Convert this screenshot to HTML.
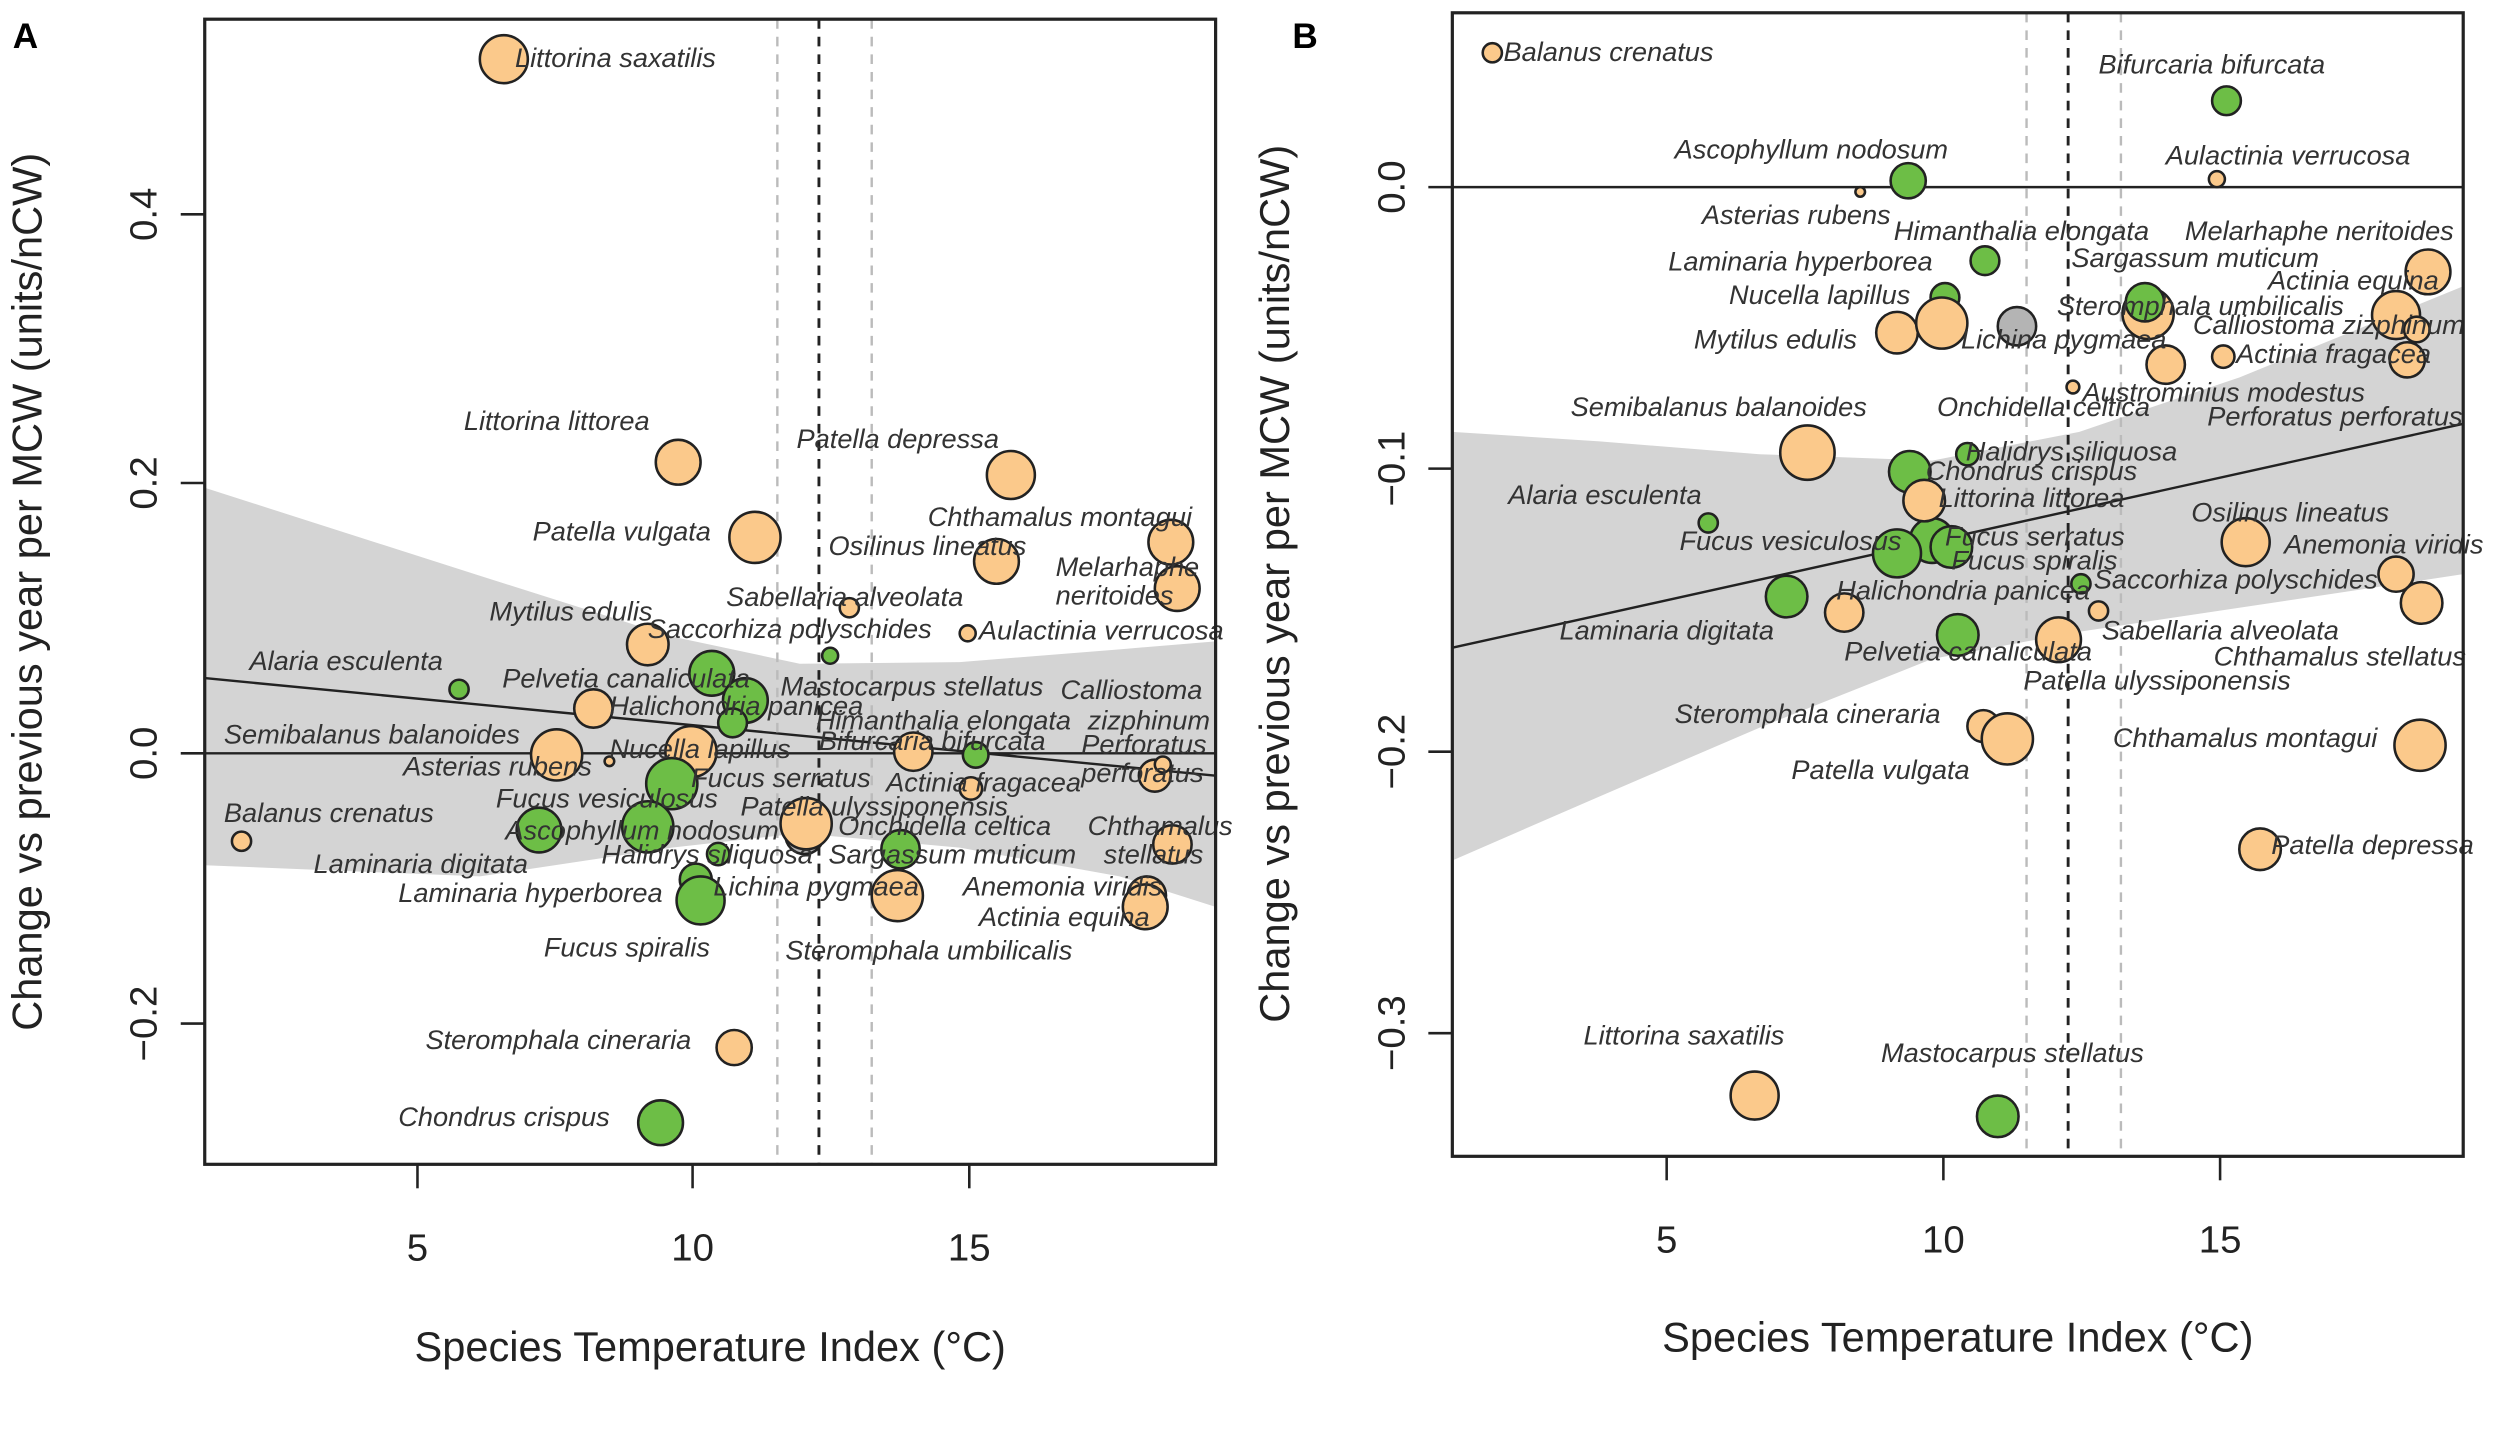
<!DOCTYPE html>
<html><head><meta charset="utf-8"><style>
html,body{margin:0;padding:0;background:#fff;}
svg{display:block;}
text{font-family:"Liberation Sans",sans-serif;}
.l{font-size:17px;font-style:italic;fill:#333;}
.t{font-size:24px;fill:#222;}
.ax{font-size:26px;fill:#222;}
.o{fill:#FBC98B;stroke:#222;stroke-width:1.6;}
.g{fill:#6DBE46;stroke:#222;stroke-width:1.6;}
.gr{fill:#b4b4b4;stroke:#222;stroke-width:1.6;}
</style></head><body>
<svg width="2500" height="1441" viewBox="0 0 1563 901" preserveAspectRatio="none" xmlns="http://www.w3.org/2000/svg">
<rect width="1563" height="901" fill="#fff"/>
<!-- PANEL A -->
<text x="8" y="30" font-size="22" font-weight="bold">A</text>
<path d="M128,305 L300,360 L420,398 L500,415 L600,414 L700,406 L760,401 L760,567 L700,548 L600,530 L500,521 L420,530 L300,548 L128,541 Z" fill="#d4d4d4"/>
<line x1="128" y1="471" x2="760" y2="471" stroke="#222" stroke-width="1.5"/>
<line x1="128" y1="424" x2="760" y2="485" stroke="#222" stroke-width="1.5"/>
<line x1="486" y1="12" x2="486" y2="728" stroke="#bbb" stroke-width="1.5" stroke-dasharray="6,5"/>
<line x1="545" y1="12" x2="545" y2="728" stroke="#bbb" stroke-width="1.5" stroke-dasharray="6,5"/>
<line x1="512" y1="12" x2="512" y2="728" stroke="#222" stroke-width="1.8" stroke-dasharray="6,5"/>
<g>
<circle class="o" cx="315" cy="37" r="15"/>
<circle class="o" cx="424" cy="289" r="14"/>
<circle class="o" cx="632" cy="297" r="15"/>
<circle class="o" cx="472" cy="336" r="16"/>
<circle class="o" cx="732" cy="339" r="14"/>
<circle class="o" cx="623" cy="351" r="14"/>
<circle class="o" cx="736" cy="368" r="14"/>
<circle class="o" cx="531" cy="380" r="6"/>
<circle class="o" cx="405" cy="403" r="13"/>
<circle class="g" cx="519" cy="410" r="5"/>
<circle class="o" cx="605" cy="396" r="5"/>
<circle class="g" cx="287" cy="431" r="6"/>
<circle class="g" cx="445" cy="421" r="14"/>
<circle class="o" cx="371" cy="443" r="12"/>
<circle class="g" cx="466" cy="438" r="14"/>
<circle class="g" cx="458" cy="452" r="9"/>
<circle class="o" cx="348" cy="472" r="16"/>
<circle class="o" cx="432" cy="470" r="16"/>
<circle class="o" cx="571" cy="470" r="12"/>
<circle class="g" cx="610" cy="472" r="8"/>
<circle class="o" cx="722" cy="485" r="10"/>
<circle class="o" cx="727" cy="478" r="5"/>
<circle class="o" cx="381" cy="476" r="3"/>
<circle class="g" cx="420" cy="490" r="16"/>
<circle class="o" cx="607" cy="493" r="7"/>
<circle class="gr" cx="503" cy="522" r="12"/>
<circle class="o" cx="504" cy="515" r="16"/>
<circle class="o" cx="151" cy="526" r="6"/>
<circle class="g" cx="337" cy="519" r="14"/>
<circle class="g" cx="405" cy="517" r="16"/>
<circle class="g" cx="563" cy="531" r="12"/>
<circle class="o" cx="733" cy="528" r="12"/>
<circle class="g" cx="449" cy="534" r="7"/>
<circle class="g" cx="435" cy="550" r="10"/>
<circle class="g" cx="438" cy="563" r="15"/>
<circle class="o" cx="561" cy="560" r="16"/>
<circle class="o" cx="717" cy="560" r="12"/>
<circle class="o" cx="716" cy="567" r="14"/>
<circle class="o" cx="459" cy="655" r="11"/>
<circle class="g" cx="413" cy="702" r="14"/>
</g>
<g class="l">
<text x="322" y="42">Littorina saxatilis</text>
<text x="290" y="269">Littorina littorea</text>
<text x="498" y="280">Patella depressa</text>
<text x="333" y="338">Patella vulgata</text>
<text x="580" y="329">Chthamalus montagui</text>
<text x="518" y="347">Osilinus lineatus</text>
<text x="660" y="360">Melarhaphe</text>
<text x="660" y="378">neritoides</text>
<text x="454" y="379">Sabellaria alveolata</text>
<text x="306" y="388">Mytilus edulis</text>
<text x="405" y="399">Saccorhiza polyschides</text>
<text x="612" y="400">Aulactinia verrucosa</text>
<text x="156" y="419">Alaria esculenta</text>
<text x="314" y="430">Pelvetia canaliculata</text>
<text x="488" y="435">Mastocarpus stellatus</text>
<text x="663" y="437">Calliostoma</text>
<text x="680" y="456">zizphinum</text>
<text x="381" y="447">Halichondria panicea</text>
<text x="510" y="456">Himanthalia elongata</text>
<text x="140" y="465">Semibalanus balanoides</text>
<text x="381" y="474">Nucella lapillus</text>
<text x="512" y="469">Bifurcaria bifurcata</text>
<text x="676" y="471">Perforatus</text>
<text x="676" y="489">perforatus</text>
<text x="252" y="485">Asterias rubens</text>
<text x="310" y="505">Fucus vesiculosus</text>
<text x="432" y="492">Fucus serratus</text>
<text x="554" y="495">Actinia fragacea</text>
<text x="463" y="510">Patella ulyssiponensis</text>
<text x="140" y="514">Balanus crenatus</text>
<text x="316" y="525">Ascophyllum nodosum</text>
<text x="524" y="522">Onchidella celtica</text>
<text x="680" y="522">Chthamalus</text>
<text x="690" y="540">stellatus</text>
<text x="196" y="546">Laminaria digitata</text>
<text x="376" y="540">Halidrys siliquosa</text>
<text x="518" y="540">Sargassum muticum</text>
<text x="249" y="564">Laminaria hyperborea</text>
<text x="446" y="560">Lichina pygmaea</text>
<text x="602" y="560">Anemonia viridis</text>
<text x="612" y="579">Actinia equina</text>
<text x="340" y="598">Fucus spiralis</text>
<text x="491" y="600">Steromphala umbilicalis</text>
<text x="266" y="656">Steromphala cineraria</text>
<text x="249" y="704">Chondrus crispus</text>
</g>
<rect x="128" y="12" width="632" height="716" fill="none" stroke="#222" stroke-width="2"/>
<g stroke="#222" stroke-width="1.6">
<line x1="113" y1="134" x2="128" y2="134"/><line x1="113" y1="302" x2="128" y2="302"/>
<line x1="113" y1="471" x2="128" y2="471"/><line x1="113" y1="640" x2="128" y2="640"/>
<line x1="261" y1="728" x2="261" y2="743"/><line x1="433" y1="728" x2="433" y2="743"/><line x1="606" y1="728" x2="606" y2="743"/>
</g>
<g class="t" text-anchor="middle">
<text transform="translate(98,134) rotate(-90)">0.4</text>
<text transform="translate(98,302) rotate(-90)">0.2</text>
<text transform="translate(98,471) rotate(-90)">0.0</text>
<text transform="translate(98,640) rotate(-90)">−0.2</text>
<text x="261" y="788">5</text><text x="433" y="788">10</text><text x="606" y="788">15</text>
</g>
<text class="ax" x="444" y="851" text-anchor="middle">Species Temperature Index (°C)</text>
<text class="ax" transform="translate(26,370) rotate(-90)" text-anchor="middle">Change vs previous year per MCW (units/nCW)</text>

<!-- PANEL B -->
<text x="808" y="30" font-size="22" font-weight="bold">B</text>
<path d="M908,270 L1000,276 L1100,284 L1208,288 L1300,270 L1400,236 L1540,179 L1540,359 L1400,380 L1300,395 L1208,412 L1100,455 L1000,498 L908,538 Z" fill="#d4d4d4"/>
<line x1="908" y1="117" x2="1540" y2="117" stroke="#222" stroke-width="1.5"/>
<line x1="908" y1="405" x2="1540" y2="265" stroke="#222" stroke-width="1.5"/>
<line x1="1267" y1="8" x2="1267" y2="723" stroke="#bbb" stroke-width="1.5" stroke-dasharray="6,5"/>
<line x1="1326" y1="8" x2="1326" y2="723" stroke="#bbb" stroke-width="1.5" stroke-dasharray="6,5"/>
<line x1="1293" y1="8" x2="1293" y2="723" stroke="#222" stroke-width="1.8" stroke-dasharray="6,5"/>
<g>
<circle class="o" cx="933" cy="33" r="6"/>
<circle class="g" cx="1392" cy="63" r="9"/>
<circle class="g" cx="1193" cy="113" r="11"/>
<circle class="o" cx="1386" cy="112" r="5"/>
<circle class="o" cx="1163" cy="120" r="3"/>
<circle class="o" cx="1518" cy="170" r="14"/>
<circle class="g" cx="1241" cy="163" r="9"/>
<circle class="g" cx="1216" cy="186" r="9"/>
<circle class="o" cx="1343" cy="196" r="16"/>
<circle class="g" cx="1341" cy="189" r="12"/>
<circle class="o" cx="1498" cy="197" r="15"/>
<circle class="o" cx="1511" cy="206" r="8"/>
<circle class="o" cx="1186" cy="208" r="13"/>
<circle class="o" cx="1214" cy="202" r="16"/>
<circle class="gr" cx="1261" cy="204" r="12"/>
<circle class="o" cx="1390" cy="223" r="7"/>
<circle class="o" cx="1505" cy="225" r="11"/>
<circle class="o" cx="1354" cy="228" r="12"/>
<circle class="o" cx="1296" cy="242" r="4"/>
<circle class="o" cx="1130" cy="283" r="17"/>
<circle class="g" cx="1230" cy="284" r="7"/>
<circle class="g" cx="1194" cy="295" r="13"/>
<circle class="g" cx="1068" cy="327" r="6"/>
<circle class="g" cx="1208" cy="338" r="14"/>
<circle class="g" cx="1186" cy="346" r="15"/>
<circle class="g" cx="1220" cy="342" r="13"/>
<circle class="o" cx="1203" cy="313" r="13"/>
<circle class="o" cx="1404" cy="339" r="15"/>
<circle class="o" cx="1498" cy="359" r="11"/>
<circle class="g" cx="1301" cy="365" r="6"/>
<circle class="o" cx="1153" cy="383" r="12"/>
<circle class="g" cx="1117" cy="373" r="13"/>
<circle class="o" cx="1514" cy="377" r="13"/>
<circle class="o" cx="1312" cy="382" r="6"/>
<circle class="g" cx="1224" cy="397" r="13"/>
<circle class="o" cx="1287" cy="400" r="14"/>
<circle class="o" cx="1240" cy="454" r="10"/>
<circle class="o" cx="1255" cy="462" r="16"/>
<circle class="o" cx="1513" cy="466" r="16"/>
<circle class="o" cx="1413" cy="531" r="13"/>
<circle class="o" cx="1097" cy="685" r="15"/>
<circle class="g" cx="1249" cy="698" r="13"/>
</g>
<g class="l">
<text x="940" y="38">Balanus crenatus</text>
<text x="1312" y="46">Bifurcaria bifurcata</text>
<text x="1047" y="99">Ascophyllum nodosum</text>
<text x="1354" y="103">Aulactinia verrucosa</text>
<text x="1064" y="140">Asterias rubens</text>
<text x="1184" y="150">Himanthalia elongata</text>
<text x="1366" y="150">Melarhaphe neritoides</text>
<text x="1043" y="169">Laminaria hyperborea</text>
<text x="1295" y="167">Sargassum muticum</text>
<text x="1418" y="181">Actinia equina</text>
<text x="1081" y="190">Nucella lapillus</text>
<text x="1286" y="197">Steromphala umbilicalis</text>
<text x="1371" y="209">Calliostoma zizphinum</text>
<text x="1059" y="218">Mytilus edulis</text>
<text x="1226" y="218">Lichina pygmaea</text>
<text x="1398" y="227">Actinia fragacea</text>
<text x="1302" y="251">Austrominius modestus</text>
<text x="982" y="260">Semibalanus balanoides</text>
<text x="1211" y="260">Onchidella celtica</text>
<text x="1380" y="266">Perforatus perforatus</text>
<text x="1229" y="288">Halidrys siliquosa</text>
<text x="1204" y="300">Chondrus crispus</text>
<text x="943" y="315">Alaria esculenta</text>
<text x="1212" y="317">Littorina littorea</text>
<text x="1370" y="326">Osilinus lineatus</text>
<text x="1216" y="341">Fucus serratus</text>
<text x="1428" y="346">Anemonia viridis</text>
<text x="1050" y="344">Fucus vesiculosus</text>
<text x="1220" y="356">Fucus spiralis</text>
<text x="1309" y="368">Saccorhiza polyschides</text>
<text x="1148" y="375">Halichondria panicea</text>
<text x="975" y="400">Laminaria digitata</text>
<text x="1314" y="400">Sabellaria alveolata</text>
<text x="1153" y="413">Pelvetia canaliculata</text>
<text x="1384" y="416">Chthamalus stellatus</text>
<text x="1265" y="431">Patella ulyssiponensis</text>
<text x="1047" y="452">Steromphala cineraria</text>
<text x="1321" y="467">Chthamalus montagui</text>
<text x="1120" y="487">Patella vulgata</text>
<text x="1420" y="534">Patella depressa</text>
<text x="990" y="653">Littorina saxatilis</text>
<text x="1176" y="664">Mastocarpus stellatus</text>
</g>
<rect x="908" y="8" width="632" height="715" fill="none" stroke="#222" stroke-width="2"/>
<g stroke="#222" stroke-width="1.6">
<line x1="893" y1="117" x2="908" y2="117"/><line x1="893" y1="293" x2="908" y2="293"/>
<line x1="893" y1="470" x2="908" y2="470"/><line x1="893" y1="646" x2="908" y2="646"/>
<line x1="1042" y1="723" x2="1042" y2="738"/><line x1="1215" y1="723" x2="1215" y2="738"/><line x1="1388" y1="723" x2="1388" y2="738"/>
</g>
<g class="t" text-anchor="middle">
<text transform="translate(878,117) rotate(-90)">0.0</text>
<text transform="translate(878,293) rotate(-90)">−0.1</text>
<text transform="translate(878,470) rotate(-90)">−0.2</text>
<text transform="translate(878,646) rotate(-90)">−0.3</text>
<text x="1042" y="783">5</text><text x="1215" y="783">10</text><text x="1388" y="783">15</text>
</g>
<text class="ax" x="1224" y="845" text-anchor="middle">Species Temperature Index (°C)</text>
<text class="ax" transform="translate(806,365) rotate(-90)" text-anchor="middle">Change vs previous year per MCW (units/nCW)</text>
</svg>
</body></html>
